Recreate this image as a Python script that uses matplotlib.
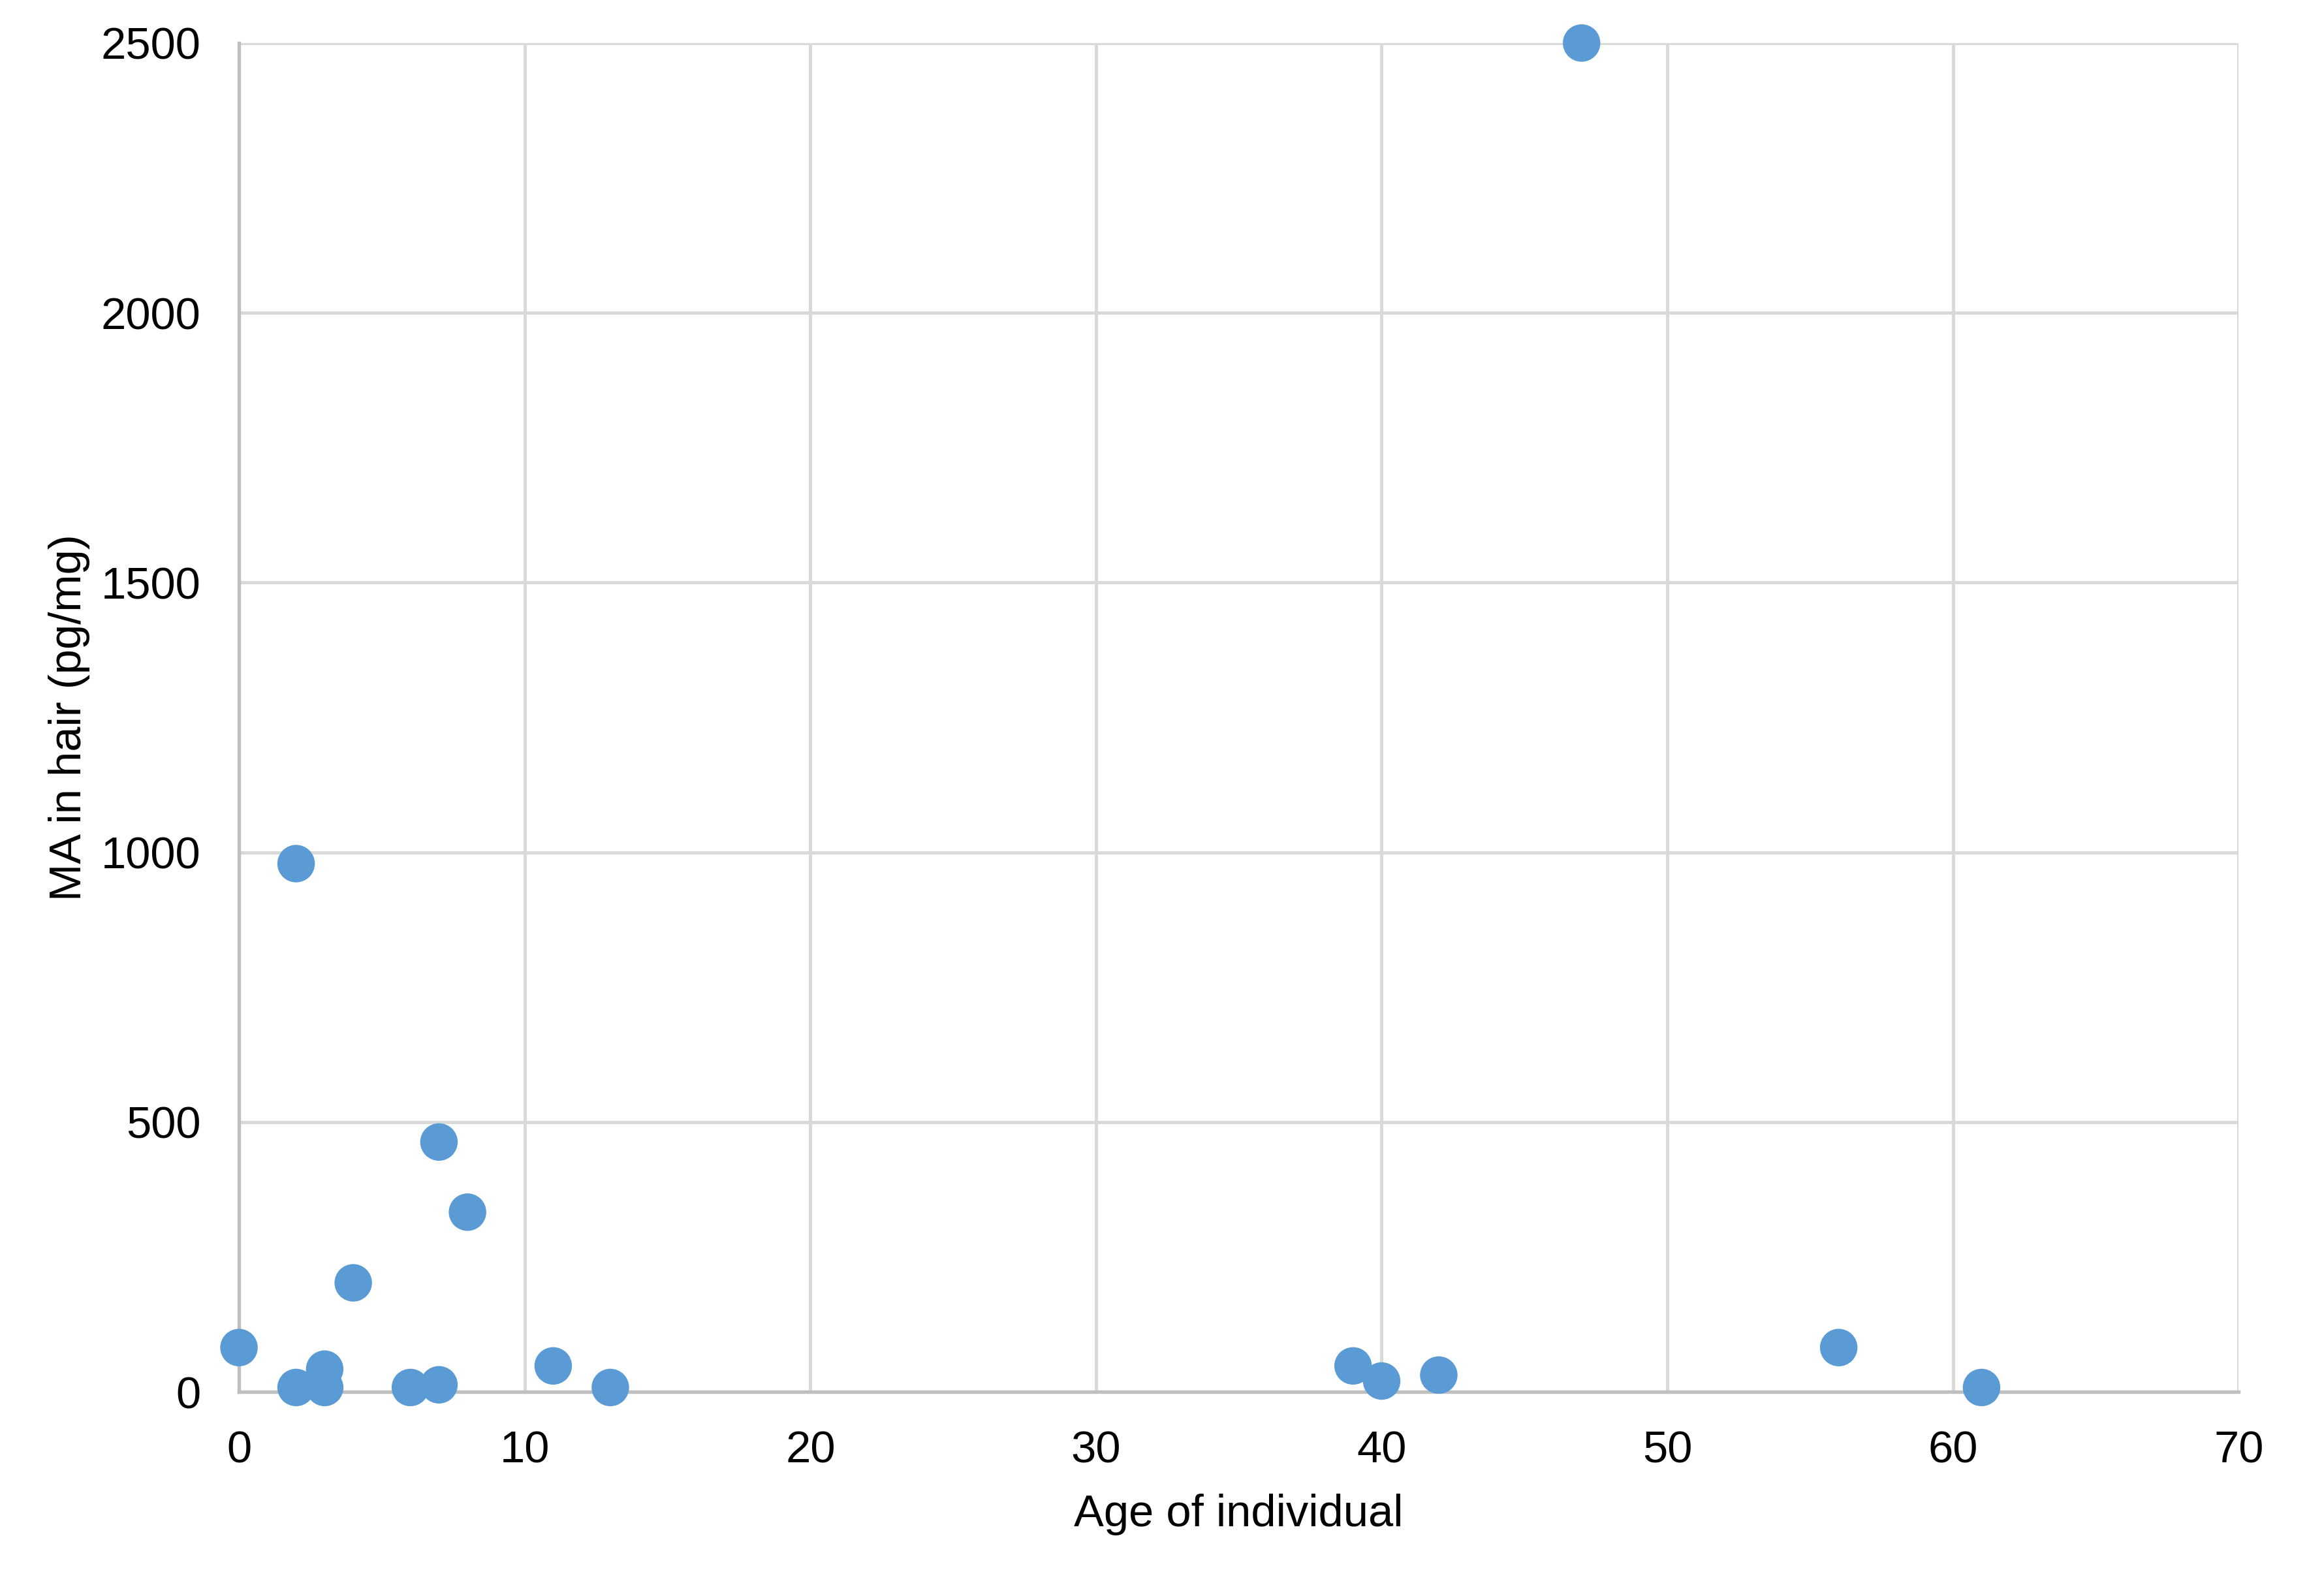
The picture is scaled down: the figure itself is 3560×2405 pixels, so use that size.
import matplotlib
matplotlib.use("Agg")
import matplotlib.pyplot as plt

# ------------------- DATA -------------------
age = [0, 2, 2, 3, 3, 4, 6, 7, 7, 8, 11, 13, 39, 40, 42, 47, 56, 61]
ma_hair = [82, 979, 8, 42, 8, 202, 8, 463, 13, 333, 48, 8, 48, 20, 31, 2500, 82, 8]

x_ticks = [0, 10, 20, 30, 40, 50, 60, 70]
y_ticks = [0, 500, 1000, 1500, 2000, 2500]

# ------------------- PLOT -------------------
plt.rcParams['font.family'] = ['Liberation Sans', 'DejaVu Sans']

fig = plt.figure(figsize=(3561 / 300, 2405 / 300), dpi=300)
ax = fig.add_axes([0.1028, 0.1135, 0.963 - 0.1028, 0.9726 - 0.1135])

ax.scatter(age, ma_hair, s=190, color='#5B9BD5', edgecolors='none',
           zorder=5, clip_on=False)

ax.set_xlim(0, 70)
ax.set_ylim(0, 2500)
ax.set_xticks(x_ticks)
ax.set_yticks(y_ticks)

ax.grid(True, color='#D9D9D9', linewidth=1.2, zorder=0)
ax.set_axisbelow(True)

for side in ['top', 'right']:
  ax.spines[side].set_visible(False)
for side in ['left', 'bottom']:
  ax.spines[side].set_color('#BFBFBF')
  ax.spines[side].set_linewidth(1.3)
  ax.spines[side].set_zorder(3)

ax.tick_params(axis='both', length=0, labelsize=16.5, colors='black')
ax.tick_params(axis='x', pad=14)
ax.tick_params(axis='y', pad=14)

ax.set_xlabel("Age of individual", fontsize=16.5, labelpad=8)
ax.set_ylabel("MA in hair (pg/mg)", fontsize=16.5, labelpad=4)

fig.savefig("out.png", dpi=300, facecolor='white')
